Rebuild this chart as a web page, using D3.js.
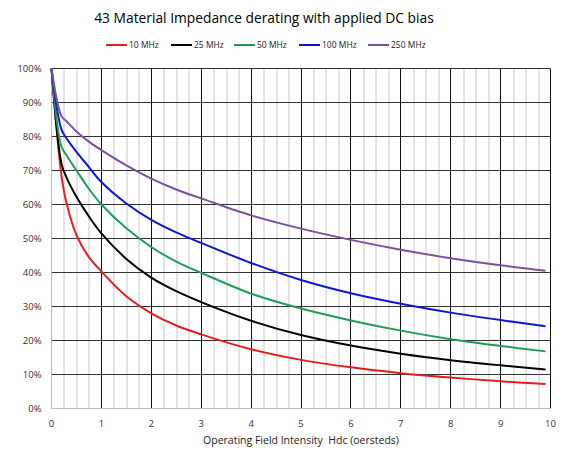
<!DOCTYPE html>
<html>
<head>
<meta charset="utf-8">
<script src="https://cdn.jsdelivr.net/npm/d3@7"></script>
<style>
  body { margin: 0; background: #fff; }
  svg { display: block; }
</style>
</head>
<body>
<div id="chart"></div>
<script>
// Hdc (oersteds) sample points
const fieldHdc = [0, 0.2, 0.3, 0.5, 0.75, 1, 1.5, 2, 2.5, 3, 4, 5, 6, 7, 8, 9, 9.9]

// % of zero-bias impedance for each frequency
const mhz10 = [100, 68.5, 60.5, 51, 44.5, 40.3, 33, 28, 24.4, 21.8, 17.4, 14.3, 12.1, 10.4, 9.1, 8.0, 7.2]
const mhz25 = [100, 72, 68, 62.3, 56.5, 51.5, 44, 38.5, 34.5, 31.3, 25.8, 21.6, 18.5, 16.1, 14.2, 12.7, 11.5]
const mhz50 = [100, 77, 74.5, 70, 64.6, 60, 53, 47.5, 43.2, 39.9, 33.8, 29.4, 25.9, 22.9, 20.4, 18.4, 16.8]
const mhz100 = [100, 82, 79.5, 75.5, 71, 66.6, 60.3, 55.5, 51.8, 48.7, 42.8, 37.8, 33.9, 30.8, 28.2, 26.0, 24.2]
const mhz250 = [100, 86, 84.5, 81.5, 78.5, 76, 71.5, 67.6, 64.4, 61.8, 56.8, 52.9, 49.6, 46.7, 44.2, 42.1, 40.5]

const seriesNames = ['10 MHz', '25 MHz', '50 MHz', '100 MHz', '250 MHz']
const seriesColors = ['#e41e1e', '#000000', '#1f9e5a', '#0a1ad0', '#7b519d']

const xTicks = [0, 1, 2, 3, 4, 5, 6, 7, 8, 9, 10]
const yTicks = [0, 10, 20, 30, 40, 50, 60, 70, 80, 90, 100]

const width = 573
const height = 457
const margin = { top: 68.5, right: 22.5, bottom: 48.5, left: 51.5 }
const innerWidth = width - margin.left - margin.right
const innerHeight = height - margin.top - margin.bottom
const fontStack = '"Open Sans", "Liberation Sans", Arial, sans-serif'

const series = [mhz10, mhz25, mhz50, mhz100, mhz250].map((vals, i) => ({
  name: seriesNames[i],
  color: seriesColors[i],
  points: vals.map((v, j) => ({ x: fieldHdc[j], y: v }))
}))

const svg = d3.select('#chart')
  .append('svg')
  .attr('width', width)
  .attr('height', height)
  .style('font-family', fontStack)

svg.append('rect').attr('width', width).attr('height', height).attr('fill', '#fff')

const g = svg.append('g')
  .attr('transform', `translate(${margin.left}, ${margin.top})`)

const xScale = d3.scaleLinear().domain([0, 10]).range([0, innerWidth])
const yScale = d3.scaleLinear().domain([0, 100]).range([innerHeight, 0])

// Title
svg.append('text')
  .attr('x', 264).attr('y', 23)
  .attr('text-anchor', 'middle')
  .attr('font-size', '13.8px').attr('fill', '#000')
  .text('43 Material Impedance derating with applied DC bias')

// Legend
const legendX = [106, 171, 234, 299, 368]
series.forEach((s, i) => {
  const lg = svg.append('g').attr('transform', `translate(${legendX[i]}, 45)`)
  lg.append('line')
    .attr('x1', 0).attr('x2', 21).attr('y1', 0).attr('y2', 0)
    .attr('stroke', s.color).attr('stroke-width', 2)
  lg.append('text')
    .attr('x', 23).attr('y', 3)
    .attr('font-size', '8.5px').attr('fill', '#222')
    .text(s.name)
})

// Minor vertical grid every 0.25
d3.range(0.25, 10, 0.25).filter(v => Math.abs(v - Math.round(v)) > 0.01).forEach(v => {
  g.append('line')
    .attr('x1', Math.round(xScale(v)) + 0.5).attr('x2', Math.round(xScale(v)) + 0.5)
    .attr('y1', 0).attr('y2', innerHeight)
    .attr('stroke', '#c8c8c8').attr('stroke-width', 1)
})

// Horizontal grid
yTicks.filter(t => t > 0).forEach(t => {
  g.append('line')
    .attr('x1', 0).attr('x2', innerWidth)
    .attr('y1', Math.round(yScale(t))).attr('y2', Math.round(yScale(t)))
    .attr('stroke', '#333').attr('stroke-width', 1)
})

// Major vertical grid
xTicks.filter(t => t > 0).forEach(t => {
  g.append('line')
    .attr('x1', Math.round(xScale(t))).attr('x2', Math.round(xScale(t)))
    .attr('y1', 0).attr('y2', innerHeight)
    .attr('stroke', '#111').attr('stroke-width', 1)
})

// Axis lines (light)
g.append('line')
  .attr('x1', 0).attr('x2', innerWidth).attr('y1', innerHeight).attr('y2', innerHeight)
  .attr('stroke', '#bbb')
g.append('line')
  .attr('x1', 0).attr('x2', 0).attr('y1', 0).attr('y2', innerHeight)
  .attr('stroke', '#bbb')

// Tick labels
yTicks.forEach(t => {
  g.append('text')
    .attr('x', -10).attr('y', yScale(t) + 3.5)
    .attr('text-anchor', 'end')
    .attr('font-size', '9.5px').attr('fill', '#333')
    .text(`${t}%`)
})

xTicks.forEach(t => {
  g.append('text')
    .attr('x', xScale(t)).attr('y', innerHeight + 18)
    .attr('text-anchor', 'middle')
    .attr('font-size', '9.5px').attr('fill', '#333')
    .text(t)
})

svg.append('text')
  .attr('x', margin.left + innerWidth / 2).attr('y', 444)
  .attr('text-anchor', 'middle')
  .attr('font-size', '10.5px').attr('fill', '#222')
  .style('white-space', 'pre')
  .text('Operating Field Intensity  Hdc (oersteds)')

// Curves
const line = d3.line()
  .x(d => xScale(d.x))
  .y(d => yScale(d.y))
  .curve(d3.curveCatmullRom.alpha(0.5))

series.forEach(s => {
  g.append('path')
    .datum(s.points)
    .attr('d', line)
    .attr('fill', 'none')
    .attr('stroke', s.color)
    .attr('stroke-width', 2)
    .attr('stroke-linejoin', 'round')
})
</script>
</body>
</html>
